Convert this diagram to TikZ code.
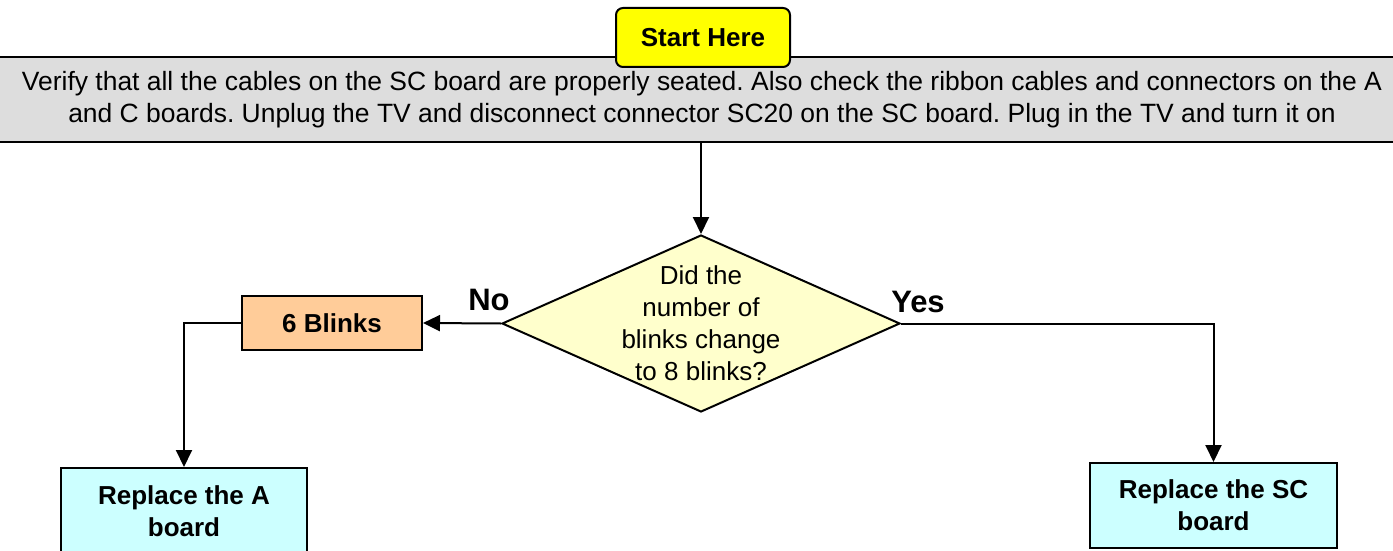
\documentclass[tikz,border=0pt]{standalone}
\usepackage{fontspec}
\setmainfont{Liberation Sans}
\usetikzlibrary{shapes.geometric,arrows.meta}
\definecolor{greyfill}{HTML}{DDDDDD}
\definecolor{startfill}{HTML}{FFFF00}
\definecolor{decfill}{HTML}{FFFFCC}
\definecolor{blinkfill}{HTML}{FFCC99}
\definecolor{repfill}{HTML}{CCFFFF}
\frenchspacing
\tikzset{
  txt/.style={font=\fontsize{26pt}{32pt}\selectfont, align=center, inner sep=0pt},
  bigtxt/.style={font=\fontsize{26.45pt}{32pt}\selectfont, align=center, inner sep=0pt},
  boldtxt/.style={font=\fontsize{26pt}{32pt}\selectfont\bfseries, align=center, inner sep=0pt},
  yesno/.style={font=\fontsize{31pt}{36pt}\selectfont\bfseries, inner sep=0pt},
  boxstyle/.style={draw=black, line width=2pt, inner sep=0pt},
  conn/.style={line width=2pt, draw=black},
  arr/.style={conn, -{Triangle[length=17pt,width=16pt]}},
}
\begin{document}
\begin{tikzpicture}[x=1pt,y=-1pt]
\useasboundingbox (0,0) rectangle (1393,551);
\clip (0,0) rectangle (1393,551);
% grey instruction box
\node[boxstyle, fill=greyfill, minimum width=1420pt, minimum height=85pt] (grey) at (696.5,99.5) {};
\node[bigtxt] (greytxt) at (702,100) {Verify that all the cables on the SC board are properly seated. Also check the ribbon cables and connectors on the A\\and C boards. Unplug the TV and disconnect connector SC20 on the SC board. Plug in the TV and turn it on};
% start
\node[boxstyle, fill=startfill, rounded corners=7pt, minimum width=174pt, minimum height=59pt, boldtxt] (start) at (703,37.5) {Start Here};
% decision
\node[diamond, boxstyle, fill=decfill, minimum width=398pt, minimum height=177pt] (dec) at (701,323.5) {};
\node[txt] (dectxt) at (dec.center) {Did the\\number of\\blinks change\\to 8 blinks?};
% 6 blinks
\node[boxstyle, fill=blinkfill, minimum width=180pt, minimum height=54pt, boldtxt] (blink) at (332,323) {6 Blinks};
% replace boxes
\node[boxstyle, fill=repfill, minimum width=246pt, minimum height=86pt, boldtxt] (repA) at (184,511) {Replace the A\\board};
\node[boxstyle, fill=repfill, minimum width=247pt, minimum height=85pt, boldtxt] (repSC) at (1213.5,505.5) {Replace the SC\\board};
% labels
\node[yesno] (no) at (489,300) {No};
\node[yesno] (yes) at (918,302) {Yes};
% connectors
\coordinate (gtop) at (dec.north |- grey.south);
\draw[arr] (gtop) -- (dec.north);
\draw[arr] (dec.west) -- (blink.east);
\draw[arr] (blink.west) -| (repA.north);
\draw[arr] (dec.east) -| (repSC.north);
\end{tikzpicture}
\end{document}
